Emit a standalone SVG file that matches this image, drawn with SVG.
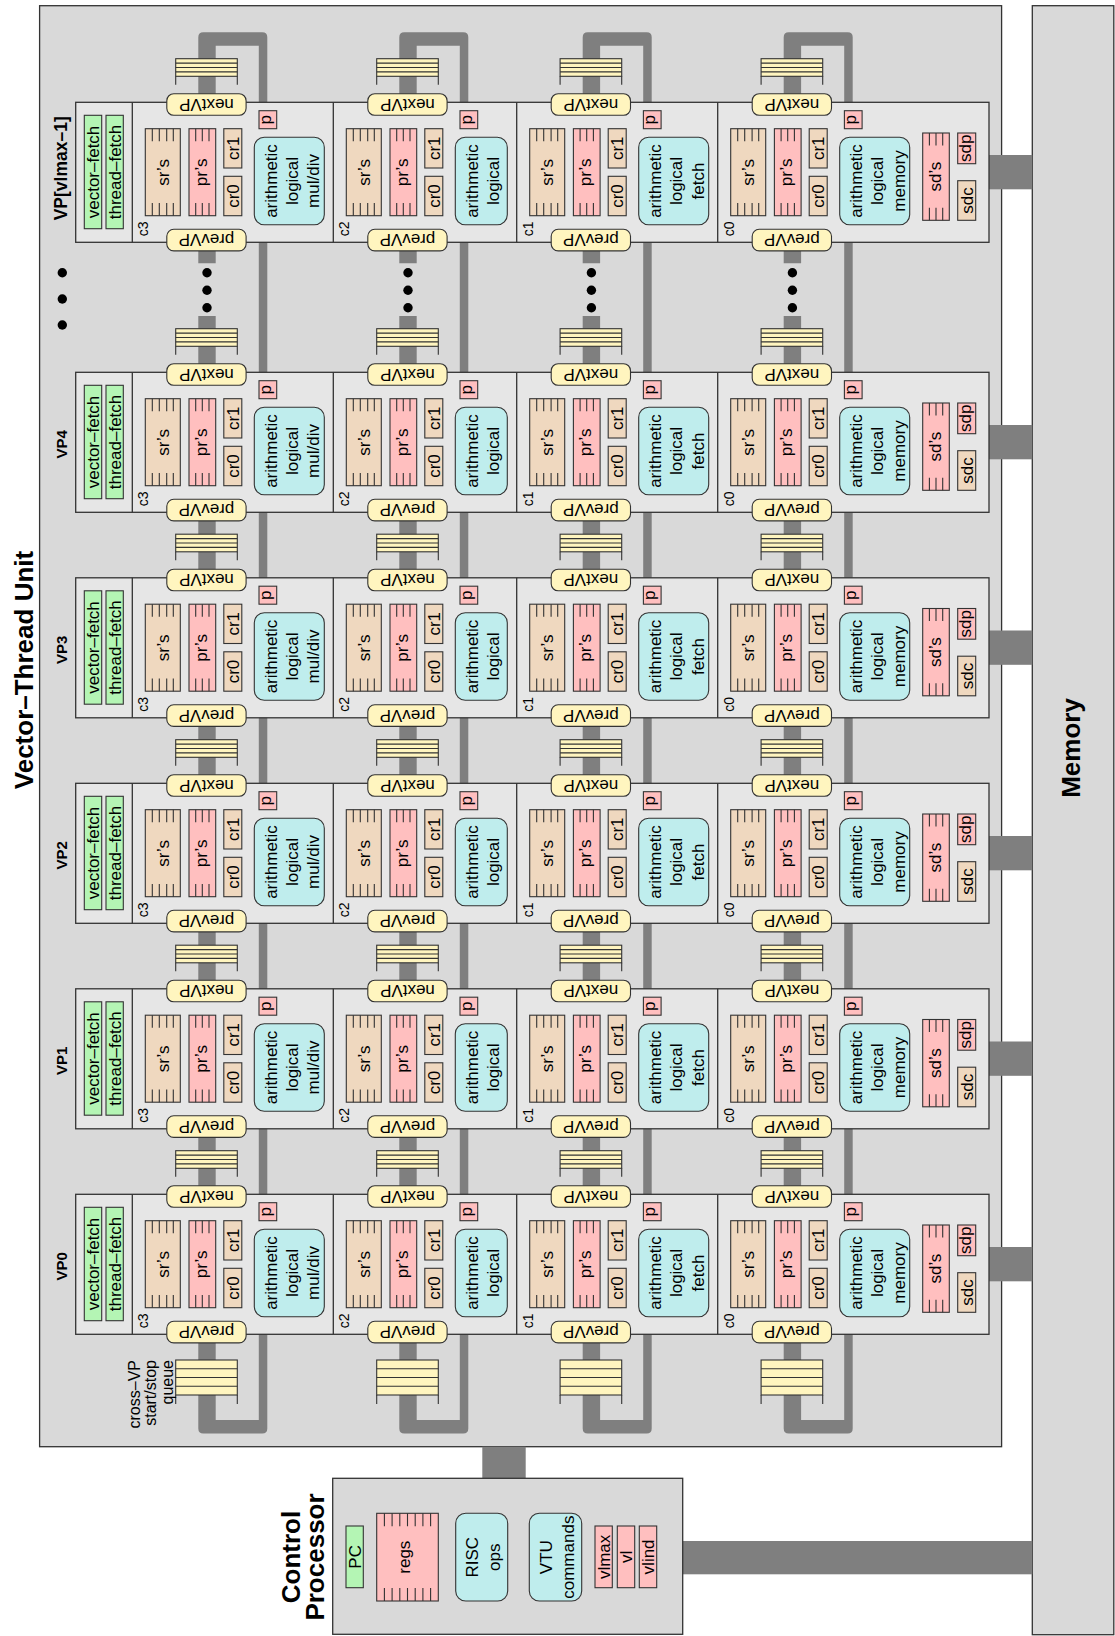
<svg xmlns="http://www.w3.org/2000/svg" xmlns:xlink="http://www.w3.org/1999/xlink" width="1115" height="1636" viewBox="0 0 1115 1636">
<style>
.t{font-family:"Liberation Sans",Arial,Helvetica,sans-serif;font-size:17px;text-anchor:middle;fill:#000}
.b{font-weight:bold}
.s15{font-size:15px}
.s17{font-size:17.5px}
.s16{font-size:16px;text-anchor:end}
.cl{font-size:14px;text-anchor:start}
.big{font-size:26px;font-weight:bold}
.box{stroke:#333;stroke-width:1.1}
.bg{fill:#d9d9d9;stroke:#333;stroke-width:1.3}
.vpb{fill:#e6e6e6;stroke:#333;stroke-width:1.3}
.dv{stroke:#333;stroke-width:1.3;fill:none}
.tk{stroke:#333;stroke-width:1.1;fill:none}
.tan{fill:#efd8bf}.pk{fill:#ffbfbf}.gr{fill:#b4f5b4}.cy{fill:#bfeded}.ye{fill:#fff5bf}
.bar{fill:#7f7f7f}
.dot{fill:#000}
</style>
<defs>
<g id="cl">
<rect class="box tan" x="13" y="26.4" width="35" height="87"/>
<path class="tk" d="M20,26.4v12.6M27,26.4v12.6M34.4,26.4v12.6M41,26.4v12.6M20,100.8v12.6M27,100.8v12.6M34.4,100.8v12.6M41,100.8v12.6"/>
<rect class="box pk" x="56.7" y="26.4" width="26.7" height="87"/>
<path class="tk" d="M63.4,26.4v12.6M70,26.4v12.6M76.7,26.4v12.6M63.4,100.8v12.6M70,100.8v12.6M76.7,100.8v12.6"/>
<rect class="box tan" x="91.5" y="26.4" width="18" height="39.3"/>
<rect class="box tan" x="91.5" y="74" width="18" height="39.4"/>
<rect class="box pk" x="126.7" y="8.4" width="17.7" height="18"/>
</g>
<rect id="ar3" class="box cy" x="122" y="35" width="70" height="87.4" rx="10"/>
<rect id="ar2" class="box cy" x="122" y="35" width="52" height="87.4" rx="10"/>
<g id="pl">
<rect class="box ye" x="34.5" y="-8.6" width="79.3" height="21.6" rx="7"/>
<rect class="box ye" x="34.5" y="127" width="79.3" height="21.6" rx="7"/>
</g>
<g id="sd">
<rect class="box pk" x="205" y="30.7" width="26.6" height="87.3"/>
<path class="tk" d="M211.7,30.7v12.6M218.3,30.7v12.6M225,30.7v12.6M211.7,105.4v12.6M218.3,105.4v12.6M225,105.4v12.6"/>
<rect class="box pk" x="240" y="30.7" width="18" height="30.7"/>
<rect class="box tan" x="240" y="78.4" width="18" height="39.6"/>
</g>
<g id="q">
<rect class="box ye" x="43.4" y="0" width="61.6" height="17.6"/>
<path class="tk" d="M43.4,4.4h61.6M43.4,8.8h61.6M43.4,13.2h61.6M43.4,17.6v8.4M105,17.6v8.4"/>
</g>
<g id="qt">
<rect class="box ye" x="43.4" y="0" width="61.6" height="35"/>
<path class="tk" d="M43.4,8.75h61.6M43.4,17.5h61.6M43.4,26.25h61.6M43.4,35v9M105,35v9"/>
</g>
<path id="ring" class="bar" d="M66,263.3V37.3Q66,32.3 71,32.3H130Q135,32.3 135,37.3V1428.5Q135,1433.5 130,1433.5H71Q66,1433.5 66,1428.5V316H83.4V1420H126.5V45.7H83.4V263.3Z"/>
</defs>

<g id="vtu">
<rect class="bg" x="39.6" y="5.7" width="962" height="1441"/>
<text class="t big" transform="translate(32.5,670) rotate(-90)">Vector–Thread Unit</text>
</g>
<g id="memory">
<rect class="bg" x="1032.3" y="5.7" width="81.5" height="1629"/>
<text class="t big" transform="translate(1080,748) rotate(-90)">Memory</text>
</g>

<g id="connectors">
<rect class="bar" x="989" y="155" width="43.3" height="34.3"/>
<rect class="bar" x="989" y="425" width="43.3" height="34.3"/>
<rect class="bar" x="989" y="630.5" width="43.3" height="34.3"/>
<rect class="bar" x="989" y="836" width="43.3" height="34.3"/>
<rect class="bar" x="989" y="1041.5" width="43.3" height="34.3"/>
<rect class="bar" x="989" y="1247" width="43.3" height="34.3"/>
<rect class="bar" x="482.3" y="1446.7" width="43.4" height="31.6"/>
<rect class="bar" x="682.7" y="1541" width="349.6" height="33.3"/>
<use href="#ring" x="132.3"/>
<use href="#ring" x="333.3"/>
<use href="#ring" x="516.7"/>
<use href="#ring" x="717.7"/>
</g>

<g id="queues">
<use href="#q" x="132.3" y="58.7"/><use href="#q" x="333.3" y="58.7"/><use href="#q" x="516.7" y="58.7"/><use href="#q" x="717.7" y="58.7"/>
<use href="#q" x="132.3" y="328.7"/><use href="#q" x="333.3" y="328.7"/><use href="#q" x="516.7" y="328.7"/><use href="#q" x="717.7" y="328.7"/>
<use href="#q" x="132.3" y="534.2"/><use href="#q" x="333.3" y="534.2"/><use href="#q" x="516.7" y="534.2"/><use href="#q" x="717.7" y="534.2"/>
<use href="#q" x="132.3" y="739.7"/><use href="#q" x="333.3" y="739.7"/><use href="#q" x="516.7" y="739.7"/><use href="#q" x="717.7" y="739.7"/>
<use href="#q" x="132.3" y="945.2"/><use href="#q" x="333.3" y="945.2"/><use href="#q" x="516.7" y="945.2"/><use href="#q" x="717.7" y="945.2"/>
<use href="#q" x="132.3" y="1150.7"/><use href="#q" x="333.3" y="1150.7"/><use href="#q" x="516.7" y="1150.7"/><use href="#q" x="717.7" y="1150.7"/>
<use href="#qt" x="132.3" y="1360"/><use href="#qt" x="333.3" y="1360"/><use href="#qt" x="516.7" y="1360"/><use href="#qt" x="717.7" y="1360"/>
<text class="t s16" transform="translate(139.5,1360) rotate(-90)"><tspan x="0" y="0">cross–VP</tspan><tspan x="0" y="16.5">start/stop</tspan><tspan x="0" y="33">queue</tspan></text>
</g>

<g id="dots">
<circle class="dot" cx="62.3" cy="272.7" r="4.7"/><circle class="dot" cx="62.3" cy="299" r="4.7"/><circle class="dot" cx="62.3" cy="325" r="4.7"/>
<circle class="dot" cx="207" cy="272.7" r="4.7"/><circle class="dot" cx="207" cy="290.3" r="4.7"/><circle class="dot" cx="207" cy="307.7" r="4.7"/>
<circle class="dot" cx="408" cy="272.7" r="4.7"/><circle class="dot" cx="408" cy="290.3" r="4.7"/><circle class="dot" cx="408" cy="307.7" r="4.7"/>
<circle class="dot" cx="591.4" cy="272.7" r="4.7"/><circle class="dot" cx="591.4" cy="290.3" r="4.7"/><circle class="dot" cx="591.4" cy="307.7" r="4.7"/>
<circle class="dot" cx="792.4" cy="272.7" r="4.7"/><circle class="dot" cx="792.4" cy="290.3" r="4.7"/><circle class="dot" cx="792.4" cy="307.7" r="4.7"/>
</g>

<g id="vp0" transform="translate(0,1194.3)">
<rect class="vpb" x="75.7" y="0" width="913.3" height="140"/>
<path class="dv" d="M132.3,0V140M333.3,0V140M516.7,0V140M717.7,0V140"/>
<text class="t b s15" transform="translate(67,72) rotate(-90)">VP0</text>
<rect class="box gr" x="84.3" y="13" width="17.4" height="113.4"/>
<rect class="box gr" x="106" y="13" width="17.3" height="113.4"/>
<text class="t" transform="translate(99.3,69.7) rotate(-90)">vector–fetch</text>
<text class="t" transform="translate(120.9,69.7) rotate(-90)">thread–fetch</text>
<g id="vp0-c3" transform="translate(132.3,0)"><use href="#cl"/><use href="#ar3"/><use href="#pl"/>
<text class="t" transform="translate(36.5,70) rotate(-90)">sr’s</text><text class="t" transform="translate(74.3,70) rotate(-90)">pr’s</text><text class="t" transform="translate(106.6,46) rotate(-90)">cr1</text><text class="t" transform="translate(106.6,93.7) rotate(-90)">cr0</text><text class="t" transform="translate(138.2,17.4) rotate(-90)">p</text>
<text class="t" transform="translate(122,78.7) rotate(-90)"><tspan x="0" y="22.3">arithmetic</tspan><tspan x="0" y="43.6">logical</tspan><tspan x="0" y="65">mul/div</tspan></text>
<text class="t cl" transform="translate(16,134) rotate(-90)">c3</text>
<text class="t" transform="translate(74.15,-3.6) rotate(180)">nextVP</text><text class="t" transform="translate(74.15,132) rotate(180)">prevVP</text></g>
<g id="vp0-c2" transform="translate(333.3,0)"><use href="#cl"/><use href="#ar2"/><use href="#pl"/>
<text class="t" transform="translate(36.5,70) rotate(-90)">sr’s</text><text class="t" transform="translate(74.3,70) rotate(-90)">pr’s</text><text class="t" transform="translate(106.6,46) rotate(-90)">cr1</text><text class="t" transform="translate(106.6,93.7) rotate(-90)">cr0</text><text class="t" transform="translate(138.2,17.4) rotate(-90)">p</text>
<text class="t" transform="translate(122,78.7) rotate(-90)"><tspan x="0" y="22.6">arithmetic</tspan><tspan x="0" y="43.9">logical</tspan></text>
<text class="t cl" transform="translate(16,134) rotate(-90)">c2</text>
<text class="t" transform="translate(74.15,-3.6) rotate(180)">nextVP</text><text class="t" transform="translate(74.15,132) rotate(180)">prevVP</text></g>
<g id="vp0-c1" transform="translate(516.7,0)"><use href="#cl"/><use href="#ar3"/><use href="#pl"/>
<text class="t" transform="translate(36.5,70) rotate(-90)">sr’s</text><text class="t" transform="translate(74.3,70) rotate(-90)">pr’s</text><text class="t" transform="translate(106.6,46) rotate(-90)">cr1</text><text class="t" transform="translate(106.6,93.7) rotate(-90)">cr0</text><text class="t" transform="translate(138.2,17.4) rotate(-90)">p</text>
<text class="t" transform="translate(122,78.7) rotate(-90)"><tspan x="0" y="22.3">arithmetic</tspan><tspan x="0" y="43.6">logical</tspan><tspan x="0" y="65">fetch</tspan></text>
<text class="t cl" transform="translate(16,134) rotate(-90)">c1</text>
<text class="t" transform="translate(74.15,-3.6) rotate(180)">nextVP</text><text class="t" transform="translate(74.15,132) rotate(180)">prevVP</text></g>
<g id="vp0-c0" transform="translate(717.7,0)"><use href="#cl"/><use href="#ar3"/><use href="#pl"/><use href="#sd"/>
<text class="t" transform="translate(36.5,70) rotate(-90)">sr’s</text><text class="t" transform="translate(74.3,70) rotate(-90)">pr’s</text><text class="t" transform="translate(106.6,46) rotate(-90)">cr1</text><text class="t" transform="translate(106.6,93.7) rotate(-90)">cr0</text><text class="t" transform="translate(138.2,17.4) rotate(-90)">p</text>
<text class="t" transform="translate(122,78.7) rotate(-90)"><tspan x="0" y="22.3">arithmetic</tspan><tspan x="0" y="43.6">logical</tspan><tspan x="0" y="65">memory</tspan></text>
<text class="t" transform="translate(223.5,74.3) rotate(-90)">sd’s</text><text class="t" transform="translate(253.3,46) rotate(-90)">sdp</text><text class="t" transform="translate(255.1,98.2) rotate(-90)">sdc</text>
<text class="t cl" transform="translate(16,134) rotate(-90)">c0</text>
<text class="t" transform="translate(74.15,-3.6) rotate(180)">nextVP</text><text class="t" transform="translate(74.15,132) rotate(180)">prevVP</text></g>
</g>

<g id="vp1" transform="translate(0,988.8)">
<rect class="vpb" x="75.7" y="0" width="913.3" height="140"/>
<path class="dv" d="M132.3,0V140M333.3,0V140M516.7,0V140M717.7,0V140"/>
<text class="t b s15" transform="translate(67,72) rotate(-90)">VP1</text>
<rect class="box gr" x="84.3" y="13" width="17.4" height="113.4"/>
<rect class="box gr" x="106" y="13" width="17.3" height="113.4"/>
<text class="t" transform="translate(99.3,69.7) rotate(-90)">vector–fetch</text>
<text class="t" transform="translate(120.9,69.7) rotate(-90)">thread–fetch</text>
<g id="vp1-c3" transform="translate(132.3,0)"><use href="#cl"/><use href="#ar3"/><use href="#pl"/>
<text class="t" transform="translate(36.5,70) rotate(-90)">sr’s</text><text class="t" transform="translate(74.3,70) rotate(-90)">pr’s</text><text class="t" transform="translate(106.6,46) rotate(-90)">cr1</text><text class="t" transform="translate(106.6,93.7) rotate(-90)">cr0</text><text class="t" transform="translate(138.2,17.4) rotate(-90)">p</text>
<text class="t" transform="translate(122,78.7) rotate(-90)"><tspan x="0" y="22.3">arithmetic</tspan><tspan x="0" y="43.6">logical</tspan><tspan x="0" y="65">mul/div</tspan></text>
<text class="t cl" transform="translate(16,134) rotate(-90)">c3</text>
<text class="t" transform="translate(74.15,-3.6) rotate(180)">nextVP</text><text class="t" transform="translate(74.15,132) rotate(180)">prevVP</text></g>
<g id="vp1-c2" transform="translate(333.3,0)"><use href="#cl"/><use href="#ar2"/><use href="#pl"/>
<text class="t" transform="translate(36.5,70) rotate(-90)">sr’s</text><text class="t" transform="translate(74.3,70) rotate(-90)">pr’s</text><text class="t" transform="translate(106.6,46) rotate(-90)">cr1</text><text class="t" transform="translate(106.6,93.7) rotate(-90)">cr0</text><text class="t" transform="translate(138.2,17.4) rotate(-90)">p</text>
<text class="t" transform="translate(122,78.7) rotate(-90)"><tspan x="0" y="22.6">arithmetic</tspan><tspan x="0" y="43.9">logical</tspan></text>
<text class="t cl" transform="translate(16,134) rotate(-90)">c2</text>
<text class="t" transform="translate(74.15,-3.6) rotate(180)">nextVP</text><text class="t" transform="translate(74.15,132) rotate(180)">prevVP</text></g>
<g id="vp1-c1" transform="translate(516.7,0)"><use href="#cl"/><use href="#ar3"/><use href="#pl"/>
<text class="t" transform="translate(36.5,70) rotate(-90)">sr’s</text><text class="t" transform="translate(74.3,70) rotate(-90)">pr’s</text><text class="t" transform="translate(106.6,46) rotate(-90)">cr1</text><text class="t" transform="translate(106.6,93.7) rotate(-90)">cr0</text><text class="t" transform="translate(138.2,17.4) rotate(-90)">p</text>
<text class="t" transform="translate(122,78.7) rotate(-90)"><tspan x="0" y="22.3">arithmetic</tspan><tspan x="0" y="43.6">logical</tspan><tspan x="0" y="65">fetch</tspan></text>
<text class="t cl" transform="translate(16,134) rotate(-90)">c1</text>
<text class="t" transform="translate(74.15,-3.6) rotate(180)">nextVP</text><text class="t" transform="translate(74.15,132) rotate(180)">prevVP</text></g>
<g id="vp1-c0" transform="translate(717.7,0)"><use href="#cl"/><use href="#ar3"/><use href="#pl"/><use href="#sd"/>
<text class="t" transform="translate(36.5,70) rotate(-90)">sr’s</text><text class="t" transform="translate(74.3,70) rotate(-90)">pr’s</text><text class="t" transform="translate(106.6,46) rotate(-90)">cr1</text><text class="t" transform="translate(106.6,93.7) rotate(-90)">cr0</text><text class="t" transform="translate(138.2,17.4) rotate(-90)">p</text>
<text class="t" transform="translate(122,78.7) rotate(-90)"><tspan x="0" y="22.3">arithmetic</tspan><tspan x="0" y="43.6">logical</tspan><tspan x="0" y="65">memory</tspan></text>
<text class="t" transform="translate(223.5,74.3) rotate(-90)">sd’s</text><text class="t" transform="translate(253.3,46) rotate(-90)">sdp</text><text class="t" transform="translate(255.1,98.2) rotate(-90)">sdc</text>
<text class="t cl" transform="translate(16,134) rotate(-90)">c0</text>
<text class="t" transform="translate(74.15,-3.6) rotate(180)">nextVP</text><text class="t" transform="translate(74.15,132) rotate(180)">prevVP</text></g>
</g>

<g id="vp2" transform="translate(0,783.3)">
<rect class="vpb" x="75.7" y="0" width="913.3" height="140"/>
<path class="dv" d="M132.3,0V140M333.3,0V140M516.7,0V140M717.7,0V140"/>
<text class="t b s15" transform="translate(67,72) rotate(-90)">VP2</text>
<rect class="box gr" x="84.3" y="13" width="17.4" height="113.4"/>
<rect class="box gr" x="106" y="13" width="17.3" height="113.4"/>
<text class="t" transform="translate(99.3,69.7) rotate(-90)">vector–fetch</text>
<text class="t" transform="translate(120.9,69.7) rotate(-90)">thread–fetch</text>
<g id="vp2-c3" transform="translate(132.3,0)"><use href="#cl"/><use href="#ar3"/><use href="#pl"/>
<text class="t" transform="translate(36.5,70) rotate(-90)">sr’s</text><text class="t" transform="translate(74.3,70) rotate(-90)">pr’s</text><text class="t" transform="translate(106.6,46) rotate(-90)">cr1</text><text class="t" transform="translate(106.6,93.7) rotate(-90)">cr0</text><text class="t" transform="translate(138.2,17.4) rotate(-90)">p</text>
<text class="t" transform="translate(122,78.7) rotate(-90)"><tspan x="0" y="22.3">arithmetic</tspan><tspan x="0" y="43.6">logical</tspan><tspan x="0" y="65">mul/div</tspan></text>
<text class="t cl" transform="translate(16,134) rotate(-90)">c3</text>
<text class="t" transform="translate(74.15,-3.6) rotate(180)">nextVP</text><text class="t" transform="translate(74.15,132) rotate(180)">prevVP</text></g>
<g id="vp2-c2" transform="translate(333.3,0)"><use href="#cl"/><use href="#ar2"/><use href="#pl"/>
<text class="t" transform="translate(36.5,70) rotate(-90)">sr’s</text><text class="t" transform="translate(74.3,70) rotate(-90)">pr’s</text><text class="t" transform="translate(106.6,46) rotate(-90)">cr1</text><text class="t" transform="translate(106.6,93.7) rotate(-90)">cr0</text><text class="t" transform="translate(138.2,17.4) rotate(-90)">p</text>
<text class="t" transform="translate(122,78.7) rotate(-90)"><tspan x="0" y="22.6">arithmetic</tspan><tspan x="0" y="43.9">logical</tspan></text>
<text class="t cl" transform="translate(16,134) rotate(-90)">c2</text>
<text class="t" transform="translate(74.15,-3.6) rotate(180)">nextVP</text><text class="t" transform="translate(74.15,132) rotate(180)">prevVP</text></g>
<g id="vp2-c1" transform="translate(516.7,0)"><use href="#cl"/><use href="#ar3"/><use href="#pl"/>
<text class="t" transform="translate(36.5,70) rotate(-90)">sr’s</text><text class="t" transform="translate(74.3,70) rotate(-90)">pr’s</text><text class="t" transform="translate(106.6,46) rotate(-90)">cr1</text><text class="t" transform="translate(106.6,93.7) rotate(-90)">cr0</text><text class="t" transform="translate(138.2,17.4) rotate(-90)">p</text>
<text class="t" transform="translate(122,78.7) rotate(-90)"><tspan x="0" y="22.3">arithmetic</tspan><tspan x="0" y="43.6">logical</tspan><tspan x="0" y="65">fetch</tspan></text>
<text class="t cl" transform="translate(16,134) rotate(-90)">c1</text>
<text class="t" transform="translate(74.15,-3.6) rotate(180)">nextVP</text><text class="t" transform="translate(74.15,132) rotate(180)">prevVP</text></g>
<g id="vp2-c0" transform="translate(717.7,0)"><use href="#cl"/><use href="#ar3"/><use href="#pl"/><use href="#sd"/>
<text class="t" transform="translate(36.5,70) rotate(-90)">sr’s</text><text class="t" transform="translate(74.3,70) rotate(-90)">pr’s</text><text class="t" transform="translate(106.6,46) rotate(-90)">cr1</text><text class="t" transform="translate(106.6,93.7) rotate(-90)">cr0</text><text class="t" transform="translate(138.2,17.4) rotate(-90)">p</text>
<text class="t" transform="translate(122,78.7) rotate(-90)"><tspan x="0" y="22.3">arithmetic</tspan><tspan x="0" y="43.6">logical</tspan><tspan x="0" y="65">memory</tspan></text>
<text class="t" transform="translate(223.5,74.3) rotate(-90)">sd’s</text><text class="t" transform="translate(253.3,46) rotate(-90)">sdp</text><text class="t" transform="translate(255.1,98.2) rotate(-90)">sdc</text>
<text class="t cl" transform="translate(16,134) rotate(-90)">c0</text>
<text class="t" transform="translate(74.15,-3.6) rotate(180)">nextVP</text><text class="t" transform="translate(74.15,132) rotate(180)">prevVP</text></g>
</g>

<g id="vp3" transform="translate(0,577.8)">
<rect class="vpb" x="75.7" y="0" width="913.3" height="140"/>
<path class="dv" d="M132.3,0V140M333.3,0V140M516.7,0V140M717.7,0V140"/>
<text class="t b s15" transform="translate(67,72) rotate(-90)">VP3</text>
<rect class="box gr" x="84.3" y="13" width="17.4" height="113.4"/>
<rect class="box gr" x="106" y="13" width="17.3" height="113.4"/>
<text class="t" transform="translate(99.3,69.7) rotate(-90)">vector–fetch</text>
<text class="t" transform="translate(120.9,69.7) rotate(-90)">thread–fetch</text>
<g id="vp3-c3" transform="translate(132.3,0)"><use href="#cl"/><use href="#ar3"/><use href="#pl"/>
<text class="t" transform="translate(36.5,70) rotate(-90)">sr’s</text><text class="t" transform="translate(74.3,70) rotate(-90)">pr’s</text><text class="t" transform="translate(106.6,46) rotate(-90)">cr1</text><text class="t" transform="translate(106.6,93.7) rotate(-90)">cr0</text><text class="t" transform="translate(138.2,17.4) rotate(-90)">p</text>
<text class="t" transform="translate(122,78.7) rotate(-90)"><tspan x="0" y="22.3">arithmetic</tspan><tspan x="0" y="43.6">logical</tspan><tspan x="0" y="65">mul/div</tspan></text>
<text class="t cl" transform="translate(16,134) rotate(-90)">c3</text>
<text class="t" transform="translate(74.15,-3.6) rotate(180)">nextVP</text><text class="t" transform="translate(74.15,132) rotate(180)">prevVP</text></g>
<g id="vp3-c2" transform="translate(333.3,0)"><use href="#cl"/><use href="#ar2"/><use href="#pl"/>
<text class="t" transform="translate(36.5,70) rotate(-90)">sr’s</text><text class="t" transform="translate(74.3,70) rotate(-90)">pr’s</text><text class="t" transform="translate(106.6,46) rotate(-90)">cr1</text><text class="t" transform="translate(106.6,93.7) rotate(-90)">cr0</text><text class="t" transform="translate(138.2,17.4) rotate(-90)">p</text>
<text class="t" transform="translate(122,78.7) rotate(-90)"><tspan x="0" y="22.6">arithmetic</tspan><tspan x="0" y="43.9">logical</tspan></text>
<text class="t cl" transform="translate(16,134) rotate(-90)">c2</text>
<text class="t" transform="translate(74.15,-3.6) rotate(180)">nextVP</text><text class="t" transform="translate(74.15,132) rotate(180)">prevVP</text></g>
<g id="vp3-c1" transform="translate(516.7,0)"><use href="#cl"/><use href="#ar3"/><use href="#pl"/>
<text class="t" transform="translate(36.5,70) rotate(-90)">sr’s</text><text class="t" transform="translate(74.3,70) rotate(-90)">pr’s</text><text class="t" transform="translate(106.6,46) rotate(-90)">cr1</text><text class="t" transform="translate(106.6,93.7) rotate(-90)">cr0</text><text class="t" transform="translate(138.2,17.4) rotate(-90)">p</text>
<text class="t" transform="translate(122,78.7) rotate(-90)"><tspan x="0" y="22.3">arithmetic</tspan><tspan x="0" y="43.6">logical</tspan><tspan x="0" y="65">fetch</tspan></text>
<text class="t cl" transform="translate(16,134) rotate(-90)">c1</text>
<text class="t" transform="translate(74.15,-3.6) rotate(180)">nextVP</text><text class="t" transform="translate(74.15,132) rotate(180)">prevVP</text></g>
<g id="vp3-c0" transform="translate(717.7,0)"><use href="#cl"/><use href="#ar3"/><use href="#pl"/><use href="#sd"/>
<text class="t" transform="translate(36.5,70) rotate(-90)">sr’s</text><text class="t" transform="translate(74.3,70) rotate(-90)">pr’s</text><text class="t" transform="translate(106.6,46) rotate(-90)">cr1</text><text class="t" transform="translate(106.6,93.7) rotate(-90)">cr0</text><text class="t" transform="translate(138.2,17.4) rotate(-90)">p</text>
<text class="t" transform="translate(122,78.7) rotate(-90)"><tspan x="0" y="22.3">arithmetic</tspan><tspan x="0" y="43.6">logical</tspan><tspan x="0" y="65">memory</tspan></text>
<text class="t" transform="translate(223.5,74.3) rotate(-90)">sd’s</text><text class="t" transform="translate(253.3,46) rotate(-90)">sdp</text><text class="t" transform="translate(255.1,98.2) rotate(-90)">sdc</text>
<text class="t cl" transform="translate(16,134) rotate(-90)">c0</text>
<text class="t" transform="translate(74.15,-3.6) rotate(180)">nextVP</text><text class="t" transform="translate(74.15,132) rotate(180)">prevVP</text></g>
</g>

<g id="vp4" transform="translate(0,372.3)">
<rect class="vpb" x="75.7" y="0" width="913.3" height="140"/>
<path class="dv" d="M132.3,0V140M333.3,0V140M516.7,0V140M717.7,0V140"/>
<text class="t b s15" transform="translate(67,72) rotate(-90)">VP4</text>
<rect class="box gr" x="84.3" y="13" width="17.4" height="113.4"/>
<rect class="box gr" x="106" y="13" width="17.3" height="113.4"/>
<text class="t" transform="translate(99.3,69.7) rotate(-90)">vector–fetch</text>
<text class="t" transform="translate(120.9,69.7) rotate(-90)">thread–fetch</text>
<g id="vp4-c3" transform="translate(132.3,0)"><use href="#cl"/><use href="#ar3"/><use href="#pl"/>
<text class="t" transform="translate(36.5,70) rotate(-90)">sr’s</text><text class="t" transform="translate(74.3,70) rotate(-90)">pr’s</text><text class="t" transform="translate(106.6,46) rotate(-90)">cr1</text><text class="t" transform="translate(106.6,93.7) rotate(-90)">cr0</text><text class="t" transform="translate(138.2,17.4) rotate(-90)">p</text>
<text class="t" transform="translate(122,78.7) rotate(-90)"><tspan x="0" y="22.3">arithmetic</tspan><tspan x="0" y="43.6">logical</tspan><tspan x="0" y="65">mul/div</tspan></text>
<text class="t cl" transform="translate(16,134) rotate(-90)">c3</text>
<text class="t" transform="translate(74.15,-3.6) rotate(180)">nextVP</text><text class="t" transform="translate(74.15,132) rotate(180)">prevVP</text></g>
<g id="vp4-c2" transform="translate(333.3,0)"><use href="#cl"/><use href="#ar2"/><use href="#pl"/>
<text class="t" transform="translate(36.5,70) rotate(-90)">sr’s</text><text class="t" transform="translate(74.3,70) rotate(-90)">pr’s</text><text class="t" transform="translate(106.6,46) rotate(-90)">cr1</text><text class="t" transform="translate(106.6,93.7) rotate(-90)">cr0</text><text class="t" transform="translate(138.2,17.4) rotate(-90)">p</text>
<text class="t" transform="translate(122,78.7) rotate(-90)"><tspan x="0" y="22.6">arithmetic</tspan><tspan x="0" y="43.9">logical</tspan></text>
<text class="t cl" transform="translate(16,134) rotate(-90)">c2</text>
<text class="t" transform="translate(74.15,-3.6) rotate(180)">nextVP</text><text class="t" transform="translate(74.15,132) rotate(180)">prevVP</text></g>
<g id="vp4-c1" transform="translate(516.7,0)"><use href="#cl"/><use href="#ar3"/><use href="#pl"/>
<text class="t" transform="translate(36.5,70) rotate(-90)">sr’s</text><text class="t" transform="translate(74.3,70) rotate(-90)">pr’s</text><text class="t" transform="translate(106.6,46) rotate(-90)">cr1</text><text class="t" transform="translate(106.6,93.7) rotate(-90)">cr0</text><text class="t" transform="translate(138.2,17.4) rotate(-90)">p</text>
<text class="t" transform="translate(122,78.7) rotate(-90)"><tspan x="0" y="22.3">arithmetic</tspan><tspan x="0" y="43.6">logical</tspan><tspan x="0" y="65">fetch</tspan></text>
<text class="t cl" transform="translate(16,134) rotate(-90)">c1</text>
<text class="t" transform="translate(74.15,-3.6) rotate(180)">nextVP</text><text class="t" transform="translate(74.15,132) rotate(180)">prevVP</text></g>
<g id="vp4-c0" transform="translate(717.7,0)"><use href="#cl"/><use href="#ar3"/><use href="#pl"/><use href="#sd"/>
<text class="t" transform="translate(36.5,70) rotate(-90)">sr’s</text><text class="t" transform="translate(74.3,70) rotate(-90)">pr’s</text><text class="t" transform="translate(106.6,46) rotate(-90)">cr1</text><text class="t" transform="translate(106.6,93.7) rotate(-90)">cr0</text><text class="t" transform="translate(138.2,17.4) rotate(-90)">p</text>
<text class="t" transform="translate(122,78.7) rotate(-90)"><tspan x="0" y="22.3">arithmetic</tspan><tspan x="0" y="43.6">logical</tspan><tspan x="0" y="65">memory</tspan></text>
<text class="t" transform="translate(223.5,74.3) rotate(-90)">sd’s</text><text class="t" transform="translate(253.3,46) rotate(-90)">sdp</text><text class="t" transform="translate(255.1,98.2) rotate(-90)">sdc</text>
<text class="t cl" transform="translate(16,134) rotate(-90)">c0</text>
<text class="t" transform="translate(74.15,-3.6) rotate(180)">nextVP</text><text class="t" transform="translate(74.15,132) rotate(180)">prevVP</text></g>
</g>

<g id="vpmax" transform="translate(0,102.3)">
<rect class="vpb" x="75.7" y="0" width="913.3" height="140"/>
<path class="dv" d="M132.3,0V140M333.3,0V140M516.7,0V140M717.7,0V140"/>
<text class="t b s17" transform="translate(67,66) rotate(-90)">VP[vlmax–1]</text>
<rect class="box gr" x="84.3" y="13" width="17.4" height="113.4"/>
<rect class="box gr" x="106" y="13" width="17.3" height="113.4"/>
<text class="t" transform="translate(99.3,69.7) rotate(-90)">vector–fetch</text>
<text class="t" transform="translate(120.9,69.7) rotate(-90)">thread–fetch</text>
<g id="vpmax-c3" transform="translate(132.3,0)"><use href="#cl"/><use href="#ar3"/><use href="#pl"/>
<text class="t" transform="translate(36.5,70) rotate(-90)">sr’s</text><text class="t" transform="translate(74.3,70) rotate(-90)">pr’s</text><text class="t" transform="translate(106.6,46) rotate(-90)">cr1</text><text class="t" transform="translate(106.6,93.7) rotate(-90)">cr0</text><text class="t" transform="translate(138.2,17.4) rotate(-90)">p</text>
<text class="t" transform="translate(122,78.7) rotate(-90)"><tspan x="0" y="22.3">arithmetic</tspan><tspan x="0" y="43.6">logical</tspan><tspan x="0" y="65">mul/div</tspan></text>
<text class="t cl" transform="translate(16,134) rotate(-90)">c3</text>
<text class="t" transform="translate(74.15,-3.6) rotate(180)">nextVP</text><text class="t" transform="translate(74.15,132) rotate(180)">prevVP</text></g>
<g id="vpmax-c2" transform="translate(333.3,0)"><use href="#cl"/><use href="#ar2"/><use href="#pl"/>
<text class="t" transform="translate(36.5,70) rotate(-90)">sr’s</text><text class="t" transform="translate(74.3,70) rotate(-90)">pr’s</text><text class="t" transform="translate(106.6,46) rotate(-90)">cr1</text><text class="t" transform="translate(106.6,93.7) rotate(-90)">cr0</text><text class="t" transform="translate(138.2,17.4) rotate(-90)">p</text>
<text class="t" transform="translate(122,78.7) rotate(-90)"><tspan x="0" y="22.6">arithmetic</tspan><tspan x="0" y="43.9">logical</tspan></text>
<text class="t cl" transform="translate(16,134) rotate(-90)">c2</text>
<text class="t" transform="translate(74.15,-3.6) rotate(180)">nextVP</text><text class="t" transform="translate(74.15,132) rotate(180)">prevVP</text></g>
<g id="vpmax-c1" transform="translate(516.7,0)"><use href="#cl"/><use href="#ar3"/><use href="#pl"/>
<text class="t" transform="translate(36.5,70) rotate(-90)">sr’s</text><text class="t" transform="translate(74.3,70) rotate(-90)">pr’s</text><text class="t" transform="translate(106.6,46) rotate(-90)">cr1</text><text class="t" transform="translate(106.6,93.7) rotate(-90)">cr0</text><text class="t" transform="translate(138.2,17.4) rotate(-90)">p</text>
<text class="t" transform="translate(122,78.7) rotate(-90)"><tspan x="0" y="22.3">arithmetic</tspan><tspan x="0" y="43.6">logical</tspan><tspan x="0" y="65">fetch</tspan></text>
<text class="t cl" transform="translate(16,134) rotate(-90)">c1</text>
<text class="t" transform="translate(74.15,-3.6) rotate(180)">nextVP</text><text class="t" transform="translate(74.15,132) rotate(180)">prevVP</text></g>
<g id="vpmax-c0" transform="translate(717.7,0)"><use href="#cl"/><use href="#ar3"/><use href="#pl"/><use href="#sd"/>
<text class="t" transform="translate(36.5,70) rotate(-90)">sr’s</text><text class="t" transform="translate(74.3,70) rotate(-90)">pr’s</text><text class="t" transform="translate(106.6,46) rotate(-90)">cr1</text><text class="t" transform="translate(106.6,93.7) rotate(-90)">cr0</text><text class="t" transform="translate(138.2,17.4) rotate(-90)">p</text>
<text class="t" transform="translate(122,78.7) rotate(-90)"><tspan x="0" y="22.3">arithmetic</tspan><tspan x="0" y="43.6">logical</tspan><tspan x="0" y="65">memory</tspan></text>
<text class="t" transform="translate(223.5,74.3) rotate(-90)">sd’s</text><text class="t" transform="translate(253.3,46) rotate(-90)">sdp</text><text class="t" transform="translate(255.1,98.2) rotate(-90)">sdc</text>
<text class="t cl" transform="translate(16,134) rotate(-90)">c0</text>
<text class="t" transform="translate(74.15,-3.6) rotate(180)">nextVP</text><text class="t" transform="translate(74.15,132) rotate(180)">prevVP</text></g>
</g>

<g id="cp">
<rect class="bg" x="332.7" y="1478.3" width="350" height="156"/>
<text class="t big" transform="translate(300,1557) rotate(-90)"><tspan x="0" y="0">Control</tspan><tspan x="0" y="24">Processor</tspan></text>
<rect class="box gr" x="346" y="1526" width="17.3" height="61.7"/>
<text class="t" transform="translate(360.8,1556.9) rotate(-90)">PC</text>
<rect class="box pk" x="376.7" y="1513.3" width="61.6" height="87.7"/>
<path class="tk" d="M384.4,1513.3v13M392.1,1513.3v13M399.8,1513.3v13M407.5,1513.3v13M415.2,1513.3v13M422.9,1513.3v13M430.6,1513.3v13M384.4,1588v13M392.1,1588v13M399.8,1588v13M407.5,1588v13M415.2,1588v13M422.9,1588v13M430.6,1588v13"/>
<text class="t" transform="translate(410.1,1557.2) rotate(-90)">regs</text>
<rect class="box cy" x="455.7" y="1513.3" width="52" height="87.7" rx="10"/>
<text class="t" transform="translate(455.7,1557.2) rotate(-90)"><tspan x="0" y="22.6">RISC</tspan><tspan x="0" y="43.9">ops</tspan></text>
<rect class="box cy" x="529.3" y="1513.3" width="52.4" height="87.7" rx="10"/>
<text class="t" transform="translate(529.3,1557.2) rotate(-90)"><tspan x="0" y="22.6">VTU</tspan><tspan x="0" y="44.3">commands</tspan></text>
<rect class="box pk" x="595" y="1526" width="17.3" height="61.7"/>
<text class="t" transform="translate(609.8,1556.9) rotate(-90)">vlmax</text>
<rect class="box pk" x="617.3" y="1526" width="17.4" height="61.7"/>
<text class="t" transform="translate(632.1,1556.9) rotate(-90)">vl</text>
<rect class="box pk" x="639.3" y="1526" width="17.4" height="61.7"/>
<text class="t" transform="translate(654.1,1556.9) rotate(-90)">vlind</text>
</g>
</svg>
